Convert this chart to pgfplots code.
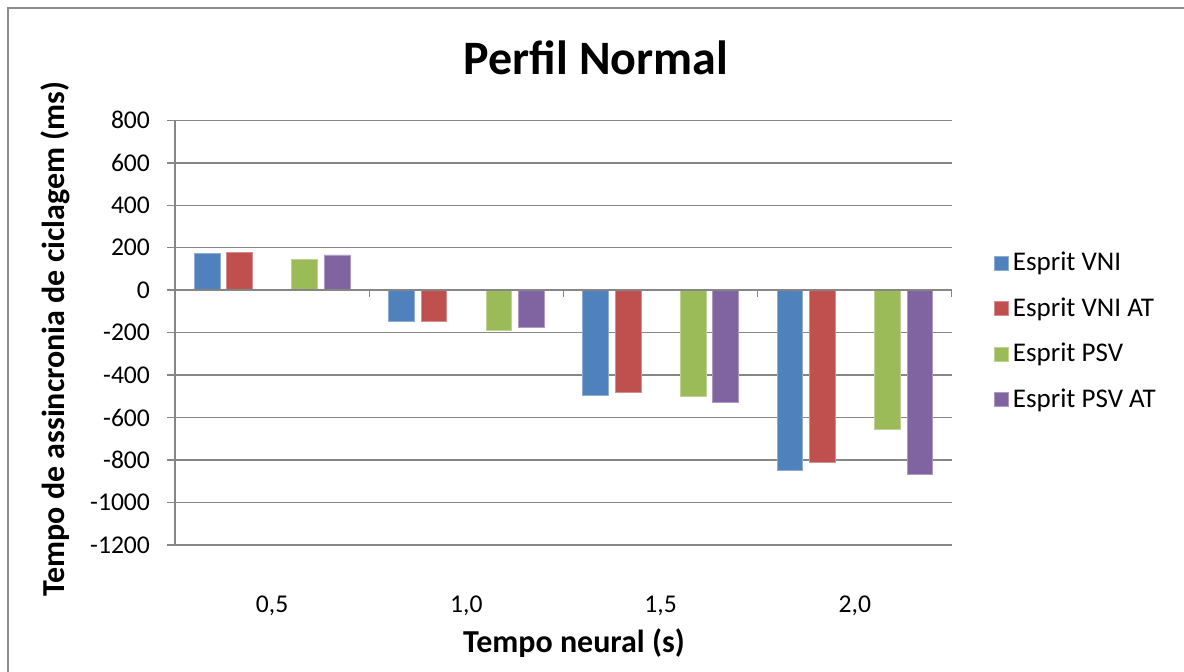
\documentclass[border=0pt]{standalone}
\usepackage{pgfplots}
\pgfplotsset{compat=1.18}
\usepackage{fontspec}
\setmainfont{Carlito}

\definecolor{cVNI}{HTML}{4F81BD}
\definecolor{cVNIAT}{HTML}{C0504D}
\definecolor{cPSV}{HTML}{9BBB59}
\definecolor{cPSVAT}{HTML}{8064A2}
\definecolor{gridgray}{HTML}{868686}
\definecolor{framegray}{HTML}{8C8C8C}

\begin{document}
\begin{tikzpicture}[x=0.5pt,y=-0.5pt]
\useasboundingbox (0,0) rectangle (1184,671);
\draw[framegray, line width=0.75pt] (8,8) rectangle (1220,720);

\begin{axis}[
  at={(87.5pt,-272.5pt)}, anchor=south west,
  scale only axis,
  width=388.5pt, height=212.35pt,
  xmin=-0.5, xmax=3.5,
  ymin=-1200, ymax=800,
  axis y line*=left,
  axis x line*=bottom,
  axis line style={gridgray, line width=0.75pt},
  ytick={-1200,-1000,...,800},
  yticklabels={-1200,-1000,-800,-600,-400,-200,0,200,400,600,800},
  xtick={0,1,2,3},
  xticklabels={{0,5},{1,0},{1,5},{2,0}},
  ymajorgrids,
  grid style={gridgray, line width=0.75pt},
  tick align=outside,
  major tick length=4pt,
  y tick style={gridgray, line width=0.75pt},
  x tick style={draw=none},
  tick label style={font=\fontsize{12.8}{15}\selectfont, text=black},
  yticklabel style={xshift=-5pt},
  xticklabel style={yshift=-18pt},
  ybar,
  bar width=0.1323,
  legend style={
    at={(1.046,0.503)}, anchor=west,
    draw=none, fill=none,
    font=\fontsize{13.5}{16}\selectfont,
    row sep=8pt,
    legend cell align=left,
  },
  legend image code/.code={\fill[#1] (0pt,-3.5pt) rectangle (7pt,3.5pt);},
]
\addplot[fill=cVNI, draw=cVNI!65!white, line width=0.4pt, bar shift=-0.3346]
  coordinates {(0,175) (1,-145) (2,-494) (3,-847)};
\addplot[fill=cVNIAT, draw=cVNIAT!65!white, line width=0.4pt, bar shift=-0.1673]
  coordinates {(0,179) (1,-147) (2,-482) (3,-813)};
\addplot[fill=cPSV, draw=cPSV!65!white, line width=0.4pt, bar shift=0.1673]
  coordinates {(0,144) (1,-187) (2,-500) (3,-654)};
\addplot[fill=cPSVAT, draw=cPSVAT!65!white, line width=0.4pt, bar shift=0.3346]
  coordinates {(0,166) (1,-174) (2,-529) (3,-866)};
\legend{Esprit VNI, Esprit VNI AT, Esprit PSV, Esprit PSV AT}

% category axis drawn along the zero line, with boundary ticks
\draw[gridgray, line width=0.75pt] (axis cs:-0.5,0) -- (axis cs:3.5,0);
\pgfplotsinvokeforeach{-0.5,0.5,1.5,2.5,3.5}{
  \draw[gridgray, line width=0.75pt] (axis cs:#1,0) -- ([yshift=-3.5pt]axis cs:#1,0);
}
\end{axis}

\node[font=\fontsize{24}{29}\selectfont\bfseries] at (596,58) {Perfil Normal};
\node[font=\fontsize{16}{19}\selectfont\bfseries] at (574,643) {Tempo neural (s)};
\node[font=\fontsize{16}{19}\selectfont\bfseries, rotate=90] at (55,339) {Tempo de assincronia de ciclagem (ms)};
\end{tikzpicture}
\end{document}
